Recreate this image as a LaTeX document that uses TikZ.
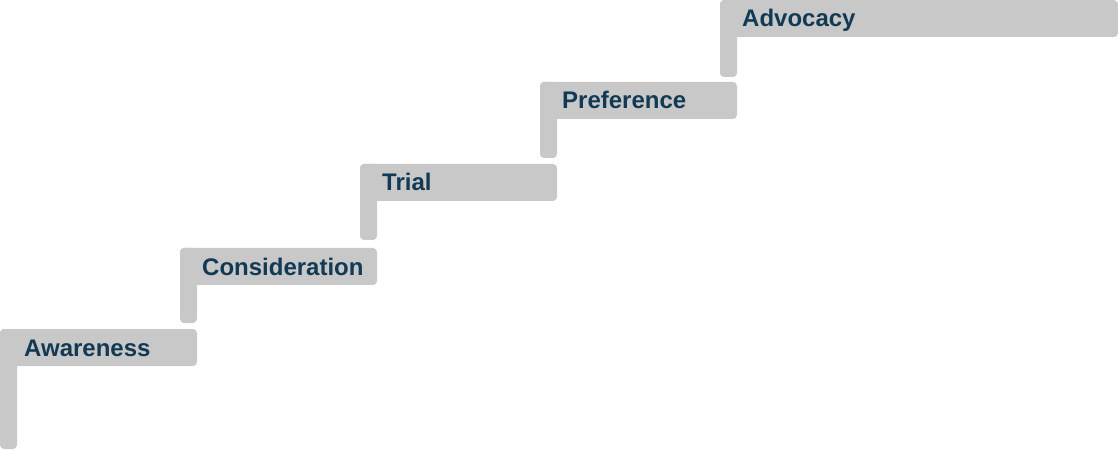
\documentclass[tikz,border=0pt]{standalone}
\usepackage{fontspec}
\setmainfont{Liberation Sans}
\usetikzlibrary{positioning}
\definecolor{stepgray}{HTML}{C8C8C8}
\definecolor{stepnavy}{HTML}{123A54}

\begin{document}
\begin{tikzpicture}[x=1pt, y=1pt, line join=round,
    stepfill/.style={fill=stepgray, rounded corners=4pt},
    steplabel/.style={anchor=base west, inner sep=0pt, text=stepnavy, font=\fontsize{24}{28}\selectfont\bfseries}]
      \useasboundingbox (0,0) rectangle (1118,450);

      % Awareness
      \fill[stepfill] (0,1) rectangle (17,121);
      \fill[stepfill] (0,84) rectangle (197,121);
      \node[steplabel] (awareness) at (24,94) {Awareness};

      % Consideration
      \fill[stepfill] (180,127) rectangle (197,202);
      \fill[stepfill] (180,165) rectangle (377,202);
      \node[steplabel] (consideration) at (202,175) {Consideration};

      % Trial
      \fill[stepfill] (360,210) rectangle (377,286);
      \fill[stepfill] (360,249) rectangle (557,286);
      \node[steplabel] (trial) at (382,259) {Trial};

      % Preference
      \fill[stepfill] (540,292) rectangle (557,368);
      \fill[stepfill] (540,331) rectangle (737,368);
      \node[steplabel] (preference) at (562,341) {Preference};

      % Advocacy
      \fill[stepfill] (720,373) rectangle (737,450);
      \fill[stepfill] (720,413) rectangle (1118,450);
      \node[steplabel] (advocacy) at (742,423) {Advocacy};
    \end{tikzpicture}
\end{document}
